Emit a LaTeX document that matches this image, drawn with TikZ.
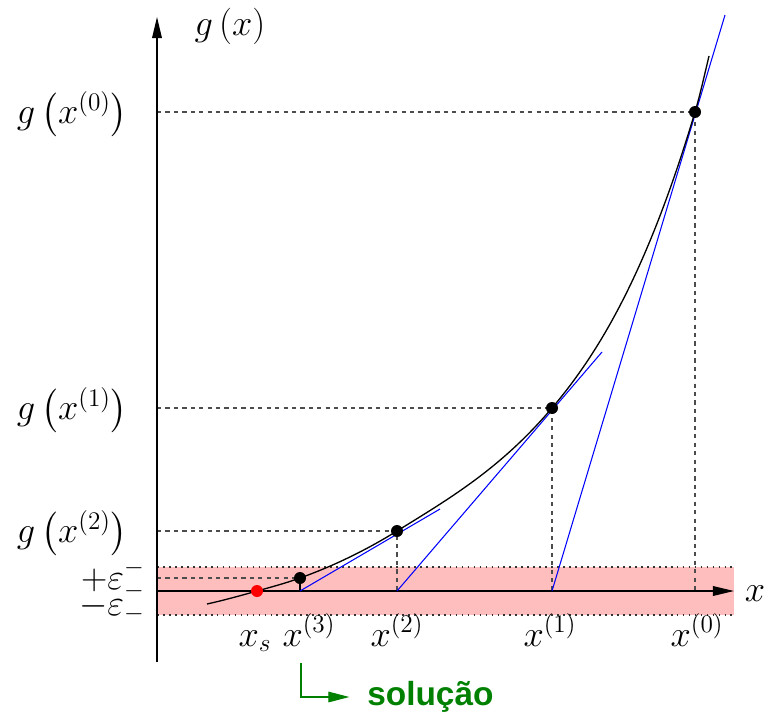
\documentclass[tikz,border=0pt]{standalone}
\usepackage{amsmath}
\usepackage{fontspec}
\newfontfamily\solfont{Liberation Sans}
\usetikzlibrary{arrows.meta}
\definecolor{bandpink}{RGB}{255,190,190}
\definecolor{solgreen}{RGB}{0,128,0}
\tikzset{
  axisline/.style={-{Triangle[length=12pt,width=5.5pt]},line width=0.8pt},
  curveline/.style={black,line width=0.75pt},
  tanline/.style={blue,line width=0.6pt},
  guide/.style={dash pattern=on 2.4pt off 2.4pt,black!70,line width=0.6pt},
  bandedge/.style={dash pattern=on 1pt off 2.4pt,black!80,line width=0.7pt},
  ptdot/.style={circle,fill=black,inner sep=0pt,minimum size=0.24cm},
  rootdot/.style={ptdot,fill=red},
  lbl/.style={font=\fontsize{20.74}{25}\selectfont,inner sep=0pt},
  sollbl/.style={font=\fontsize{19}{23}\selectfont\solfont\bfseries,text=solgreen,inner sep=0pt},
  solarrow/.style={-{Triangle[length=12pt,width=6pt]},solgreen,line width=0.7pt},
}

\begin{document}
\begin{tikzpicture}[x=0.02cm,y=-0.02cm]
  \useasboundingbox (0,0) rectangle (766,719);
  \coordinate (o) at (157,591);
  \coordinate (xend) at (734,591);
  \coordinate (ytop) at (157,17);
  \coordinate (ybot) at (157,662);
  \coordinate (bandtl) at (157,567);
  \coordinate (bandtr) at (734,567);
  \coordinate (bandbl) at (157,615);
  \coordinate (bandbr) at (734,615);
  \coordinate (x0) at (695,112);
  \coordinate (x1) at (552,408);
  \coordinate (x2) at (397,531);
  \coordinate (x3) at (300,578);
  \coordinate (xs) at (257,591);
  \coordinate (t0end) at (725,15);
  \coordinate (t1end) at (602,352);
  \coordinate (t2end) at (440,509);
  \coordinate (solstart) at (301,663);
  % tolerance band
  \fill[bandpink] (bandtl) rectangle (bandbr);
  \draw[bandedge] (bandtl) -- (bandtr);
  \draw[bandedge] (bandbl) -- (bandbr);
  % guides
  \draw[guide] (o |- x0) -- (x0) -- (x0 |- o);
  \draw[guide] (o |- x1) -- (x1) -- (x1 |- o);
  \draw[guide] (o |- x2) -- (x2) -- (x2 |- o);
  \draw[guide] (o |- x3) -- (x3);
  \draw[black,line width=0.6pt] (x3) -- (x3 |- o);
  % axes
  \draw[axisline] (o) -- (xend);
  \draw[axisline] (ybot) -- (ytop);
  % tangents
  \draw[tanline] (x1 |- o) -- (t0end);
  \draw[tanline] (x2 |- o) -- (t1end);
  \draw[tanline] (x3 |- o) -- (t2end);
  % g(x)
  \draw[curveline] (207,604) .. controls (223.7,600.3) and (240.3,595.7) .. (xs)
    .. controls (271.3,587) and (285.7,583.2) .. (x3)
    .. controls (332.3,566.4) and (364.7,551) .. (x2)
    .. controls (448.7,499) and (500.3,469) .. (x1)
    .. controls (599.7,351.7) and (647.3,271.7) .. (x0)
    .. controls (699.7,96.3) and (704.3,75.7) .. (709,56);
  % iterates
  \node[ptdot] (d0) at (x0) {};
  \node[ptdot] (d1) at (x1) {};
  \node[ptdot] (d2) at (x2) {};
  \node[ptdot] (d3) at (x3) {};
  \node[rootdot] (ds) at (xs) {};
  % labels
  \node[lbl,anchor=base] (gx) at (230,36) {$g\left(x\right)$};
  \node[lbl,anchor=east] (g0) at (128,114) {$g\left(x^{(0)}\right)$};
  \node[lbl,anchor=east] (g1) at (128,410) {$g\left(x^{(1)}\right)$};
  \node[lbl,anchor=east] (g2) at (128,533) {$g\left(x^{(2)}\right)$};
  \node[lbl,anchor=base east,text depth=2pt] (epsp) at (145,589) {$+\varepsilon^{-}_{-}$};
  \node[lbl,anchor=base east,text height=9pt] (epsm) at (145,615) {$-\varepsilon_{-}$};
  \node[lbl,anchor=base] (lxs) at (255,646) {$x_s$};
  \node[lbl,anchor=base] (lx3) at (309,646) {$x^{(3)}$};
  \node[lbl,anchor=base] (lx2) at (397,646) {$x^{(2)}$};
  \node[lbl,anchor=base] (lx1) at (550,646) {$x^{(1)}$};
  \node[lbl,anchor=base] (lx0) at (697,646) {$x^{(0)}$};
  \node[lbl,anchor=base] (lx) at (755,601) {$x$};
  \node[sollbl,anchor=west] (sol) at (367,697) {solução};
  \draw[solarrow,shorten >=10pt] (solstart) |- (sol.west);
\end{tikzpicture}
\end{document}
